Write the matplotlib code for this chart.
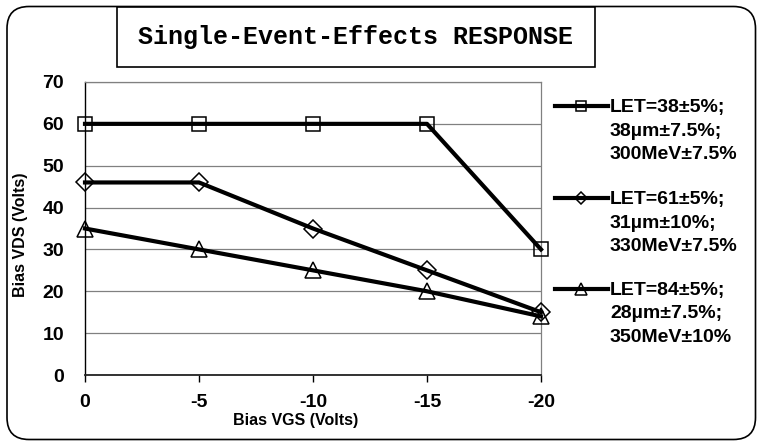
import matplotlib
matplotlib.use("Agg")
import matplotlib.pyplot as plt
from matplotlib.lines import Line2D
from matplotlib.patches import FancyBboxPatch, Rectangle

# ===== DATA =====
vgs = [0, -5, -10, -15, -20]
vgs_labels = ["0", "-5", "-10", "-15", "-20"]
vds_let38 = [60, 60, 60, 60, 30]
vds_let61 = [46, 46, 35, 25, 15]
vds_let84 = [35, 30, 25, 20, 14]
y_ticks = [0, 10, 20, 30, 40, 50, 60, 70]

legend_labels = [
    ["LET=38\u00b15%;", "38\u00b5m\u00b17.5%;", "300MeV\u00b17.5%"],
    ["LET=61\u00b15%;", "31\u00b5m\u00b110%;", "330MeV\u00b17.5%"],
    ["LET=84\u00b15%;", "28\u00b5m\u00b17.5%;", "350MeV\u00b110%"],
]

plt.rcParams['font.family'] = ['Liberation Sans', 'DejaVu Sans']
plt.rcParams['font.weight'] = 'bold'

W, H = 757, 441
fig = plt.figure(figsize=(W / 100, H / 100), dpi=100)

# outer rounded border (behind everything)
fig.add_artist(FancyBboxPatch((0.07, 0.015), 7.485, 4.33,
                              boxstyle="round,pad=0,rounding_size=0.22",
                              transform=fig.dpi_scale_trans,
                              fc="none", ec="black", lw=1.2, zorder=-5))

# title box
fig.add_artist(Rectangle((1.17, (H - 67) / 100), 4.78, 0.60,
                         transform=fig.dpi_scale_trans,
                         fc="white", ec="black", lw=1.2, zorder=-4))
fig.text(356 / W, 1 - 37 / H, "Single-Event-Effects RESPONSE",
         family="Liberation Mono", fontsize=18, weight="bold",
         ha="center", va="center")

# ===== PLOT =====
ax = fig.add_axes([85 / W, 1 - 375 / H, (541 - 85) / W, (375 - 82) / H])
ax.set_facecolor("none")

series = [
    (vds_let38, "s", 9.4),
    (vds_let61, "D", 8.9),
    (vds_let84, "^", 11),
]
for vals, mk, ms in series:
    ax.plot(vgs, vals, color="black", lw=3, marker=mk, ms=ms,
            mfc="none", mec="black", mew=1.1, clip_on=False, zorder=3)

ax.set_xlim(0, -20)
ax.set_ylim(0, 70)
ax.set_xticks(vgs)
ax.set_xticklabels(vgs_labels)
ax.set_yticks(y_ticks)

ax.grid(axis="y", color="#808080", lw=0.9)
ax.set_axisbelow(True)
for s in ["top", "right"]:
    ax.spines[s].set_color("#808080")
    ax.spines[s].set_linewidth(0.9)
ax.spines["left"].set_color("black")
ax.spines["left"].set_linewidth(1.0)
ax.spines["bottom"].set_color("#222222")
ax.spines["bottom"].set_linewidth(1.3)

ax.tick_params(axis="y", length=0, pad=15, labelsize=14)
ax.tick_params(axis="x", length=5, width=1, direction="out", pad=9, labelsize=14)

fig.text(296 / W, 1 - 425 / H, "Bias VGS (Volts)", fontsize=11.5,
         weight="bold", ha="center", va="baseline")
fig.text(21 / W, 1 - 235 / H, "Bias VDS (Volts)", fontsize=11.5,
         weight="bold", ha="center", va="center", rotation=90)

# ===== LEGEND =====
handle_y = [106, 198, 289]
legend_ms = [6.5, 6.5, 8]
for (vals, mk, ms), hy, lms, lines in zip(series, handle_y, legend_ms, legend_labels):
    fy = 1 - hy / H
    fig.add_artist(Line2D([555 / W, 608 / W], [fy, fy], color="black", lw=3,
                          transform=fig.transFigure))
    fig.add_artist(Line2D([581 / W], [fy], marker=mk, ms=lms, mfc="none",
                          mec="black", mew=1.1, transform=fig.transFigure))
    for i, txt in enumerate(lines):
        base = hy + 6 + i * 23.5
        fig.text(610 / W, 1 - base / H, txt, fontsize=14, weight="bold",
                 ha="left", va="baseline")

fig.savefig("out.png", dpi=100)
